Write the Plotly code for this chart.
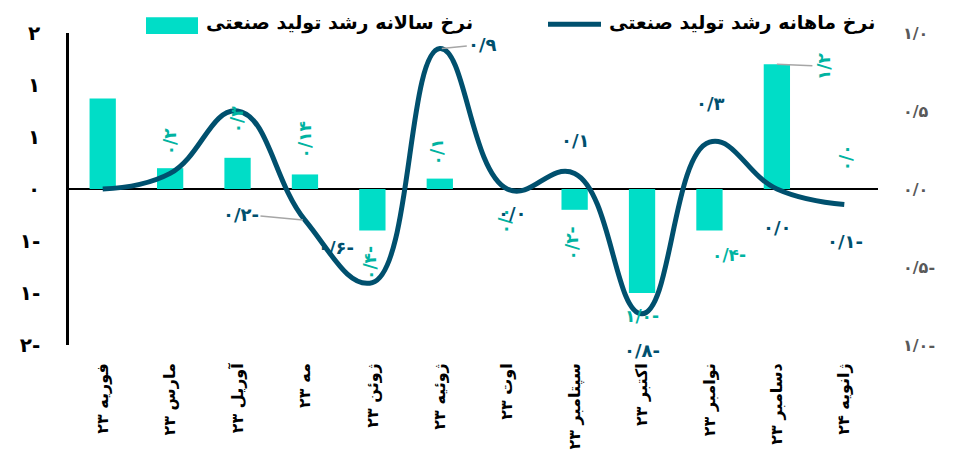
import plotly.graph_objects as go

# ---- data ---------------------------------------------------------------
months = ["فوریه ۲۳", "مارس ۲۳", "آوریل ۲۳", "مه ۲۳", "ژوئن ۲۳", "ژوئیه ۲۳",
          "اوت ۲۳", "سپتامبر ۲۳", "اکتبر ۲۳", "نوامبر ۲۳", "دسامبر ۲۳", "ژانویه ۲۴"]
annual_growth = [0.87, 0.2, 0.3, 0.14, -0.4, 0.1, 0.0, -0.2, -1.0, -0.4, 1.2, 0.0]
monthly_growth = [0.0, 0.1, 0.5, -0.2, -0.6, 0.9, 0.0, 0.1, -0.8, 0.3, 0.0, -0.1]
left_ticks = [-1.5, -1.0, -0.5, 0.0, 0.5, 1.0, 1.5]
right_ticks = [-1.0, -0.5, 0.0, 0.5, 1.0]
legend_annual = "نرخ سالانه رشد تولید صنعتی"
legend_monthly = "نرخ ماهانه رشد تولید صنعتی"

# ---- styling ------------------------------------------------------------
FONT = "DejaVu Sans"
BAR_COLOR = "#00DDC7"
BAR_LABEL_COLOR = "#00B3A1"
LINE_COLOR = "#00506E"
LEADER_COLOR = "#A6A6A6"

W, H = 961, 461
ML, MR, MT, MB = 69, 83, 33, 111
PW, PH = W - ML - MR, H - MT - MB

FA_DIGITS = str.maketrans("0123456789", "۰۱۲۳۴۵۶۷۸۹")


def fa_num(v, decimals=1):
    """Persian number with '/' as decimal mark and the minus sign trailing."""
    r = round(v, decimals)
    s = f"{abs(r):.{decimals}f}".replace(".", "/").translate(FA_DIGITS)
    return s + "-" if r < 0 else s


def fa_auto(v):
    return fa_num(v, 2 if round(v, 2) != round(v, 1) else 1)


def fa_int(v):
    n = int(abs(v) + 0.5)
    s = str(n).translate(FA_DIGITS)
    return s + "-" if v < 0 and n != 0 else s


def px_x(px):
    return (px - ML) / PW


def px_y(py):
    return (MT + PH - py) / PH


fig = go.Figure()

fig.add_trace(go.Bar(
    x=months, y=annual_growth, name=legend_annual,
    marker=dict(color=BAR_COLOR, line=dict(width=0)),
    width=0.39, yaxis="y", showlegend=False,
))

fig.add_trace(go.Scatter(
    x=months, y=monthly_growth, name=legend_monthly, mode="lines",
    line=dict(color=LINE_COLOR, width=5, shape="spline", smoothing=1.25),
    yaxis="y2", showlegend=False,
))

# ---- value labels -------------------------------------------------------
# (index, dx, dy, angle, leader) placement of bar labels, dy up is positive
bar_label_place = [
    (1, 0, 27, -90, False), (2, -1, 38, -90, False), (3, 0, 35, -90, False),
    (4, -3, -32, -90, False), (5, -3, 27, -90, False), (6, -2, -32, -90, False),
    (7, -3, -34, -90, False), (8, 0, -23, 0, False), (9, 20, -24, 0, False),
    (10, 47, -2, -90, True), (11, 2, 31, -90, False),
]
annotations = []
for i, dx, dy, ang, leader in bar_label_place:
    v = annual_growth[i]
    common = dict(x=months[i], y=v, xref="x", yref="y", text=fa_auto(v),
                  textangle=ang,
                  font=dict(family=FONT, size=17, color=BAR_LABEL_COLOR, weight="bold"))
    if leader:
        annotations.append(dict(**common, showarrow=True, ax=dx, ay=-dy,
                                arrowhead=0, arrowwidth=1.5, arrowcolor=LEADER_COLOR,
                                standoff=0))
    else:
        annotations.append(dict(**common, showarrow=False, xshift=dx, yshift=dy))

line_label_place = [
    (3, -64, 6, True), (4, -36, 35, False), (5, 43, 4, True), (6, 5, -24, False),
    (7, 1, 33, False), (8, 0, -37, False), (9, 1, 39, False), (10, 1, -38, False),
    (11, 1, -37, False),
]
for i, dx, dy, leader in line_label_place:
    v = monthly_growth[i]
    common = dict(x=months[i], y=v, xref="x", yref="y2", text=fa_num(v),
                  font=dict(family=FONT, size=18, color=LINE_COLOR, weight="bold"))
    if leader:
        annotations.append(dict(**common, showarrow=True, ax=dx, ay=-dy,
                                arrowhead=0, arrowwidth=1.5, arrowcolor=LEADER_COLOR,
                                standoff=2))
    else:
        annotations.append(dict(**common, showarrow=False, xshift=dx, yshift=dy))

# ---- legend drawn by hand ---------------------------------------------
legend_font = dict(family=FONT, size=19, color="#000000", weight="bold")
annotations.append(dict(x=px_x(204), y=px_y(22), xref="paper", yref="paper",
                        text=legend_annual, showarrow=False, xanchor="left",
                        yanchor="middle", font=legend_font))
annotations.append(dict(x=px_x(607), y=px_y(22), xref="paper", yref="paper",
                        text=legend_monthly, showarrow=False, xanchor="left",
                        yanchor="middle", font=legend_font))
shapes = [
    dict(type="rect", xref="paper", yref="paper",
         x0=px_x(146), x1=px_x(198), y0=px_y(34), y1=px_y(17),
         fillcolor=BAR_COLOR, line=dict(width=0)),
    dict(type="line", xref="paper", yref="paper",
         x0=px_x(548), x1=px_x(601), y0=px_y(24), y1=px_y(24),
         line=dict(color=LINE_COLOR, width=5)),
]

fig.update_layout(
    width=W, height=H,
    margin=dict(l=ML, r=MR, t=MT, b=MB, pad=0),
    paper_bgcolor="white", plot_bgcolor="white",
    font=dict(family=FONT),
    bargap=0.6,
    annotations=annotations,
    shapes=shapes,
    xaxis=dict(
        type="category", tickangle=-90, showgrid=False, showline=False,
        ticks="", ticklabelstandoff=14,
        tickfont=dict(family=FONT, size=16, color="#000000", weight="bold"),
    ),
    yaxis=dict(
        range=[-1.5, 1.5], tickvals=left_ticks,
        ticktext=[fa_int(v) for v in left_ticks],
        showgrid=False, showline=True, linecolor="#000000", linewidth=2.5,
        zeroline=True, zerolinecolor="#000000", zerolinewidth=2,
        ticks="", ticklabelstandoff=22,
        tickfont=dict(family=FONT, size=20, color="#000000", weight="bold"),
    ),
    yaxis2=dict(
        range=[-1.0, 1.0], overlaying="y", side="right", tickvals=right_ticks,
        ticktext=[fa_num(v) for v in right_ticks],
        showgrid=False, showline=False, zeroline=False,
        ticks="", ticklabelstandoff=24,
        tickfont=dict(family=FONT, size=16, color="#595959", weight="bold"),
    ),
)

fig.write_html("out.html")
